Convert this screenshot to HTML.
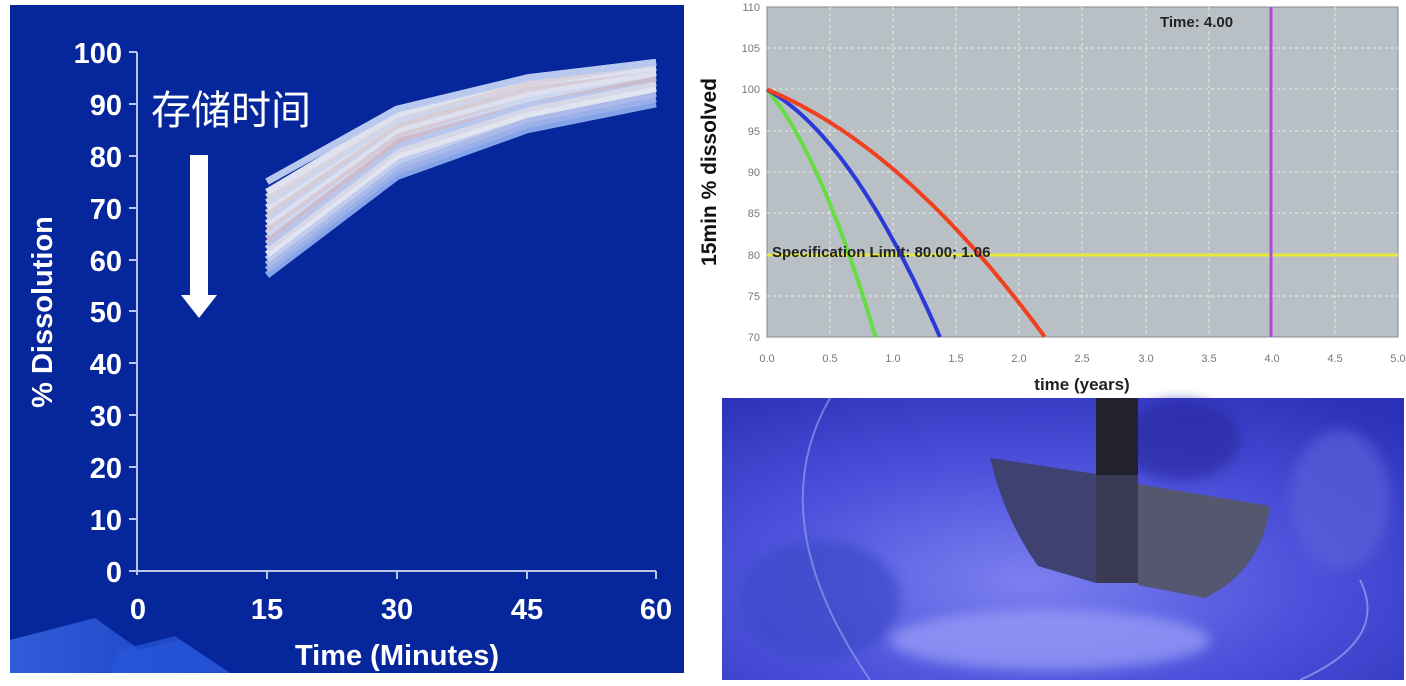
<!DOCTYPE html>
<html><head><meta charset="utf-8"><style>
html,body{margin:0;padding:0;background:#fff;width:1406px;height:686px;overflow:hidden}
svg{display:block}
</style></head><body>
<svg width="1406" height="686" viewBox="0 0 1406 686" xmlns="http://www.w3.org/2000/svg" font-family="Liberation Sans, sans-serif">
<defs>
<linearGradient id="bl" x1="0" y1="0" x2="1" y2="0"><stop offset="0" stop-color="#3a6ae8"/><stop offset="1" stop-color="#1b45c8"/></linearGradient>
<radialGradient id="ph" cx="0.45" cy="0.65" r="0.8"><stop offset="0" stop-color="#7c80f0"/><stop offset="0.5" stop-color="#4d52dc"/><stop offset="1" stop-color="#2a30b8"/></radialGradient>
<linearGradient id="pad" x1="0" y1="0" x2="1" y2="0"><stop offset="0" stop-color="#3b3d6a"/><stop offset="0.5" stop-color="#484a6e"/><stop offset="1" stop-color="#5a5a78"/></linearGradient>
<filter id="blur"><feGaussianBlur stdDeviation="6"/></filter>
</defs>
<rect x="10" y="5" width="674" height="668" fill="#06269c"/>
<polygon points="10,640 95,618 140,650 180,640 230,673 10,673" fill="url(#bl)" opacity="0.8"/>
<polygon points="120,650 175,636 230,673 110,673" fill="#2a58dc" opacity="0.7"/>
<g stroke="#b9c4e8" stroke-width="2" fill="none">
<line x1="137" y1="52" x2="137" y2="575"/>
<line x1="137" y1="571" x2="656" y2="571"/>
</g>
<g stroke="#b9c4e8" stroke-width="2">
<line x1="129" y1="52" x2="137" y2="52"/><line x1="129" y1="104" x2="137" y2="104"/><line x1="129" y1="156" x2="137" y2="156"/><line x1="129" y1="208" x2="137" y2="208"/><line x1="129" y1="260" x2="137" y2="260"/><line x1="129" y1="311" x2="137" y2="311"/><line x1="129" y1="363" x2="137" y2="363"/><line x1="129" y1="415" x2="137" y2="415"/><line x1="129" y1="467" x2="137" y2="467"/><line x1="129" y1="519" x2="137" y2="519"/><line x1="129" y1="571" x2="137" y2="571"/>
<line x1="267" y1="571" x2="267" y2="579"/><line x1="397" y1="571" x2="397" y2="579"/><line x1="527" y1="571" x2="527" y2="579"/><line x1="656" y1="571" x2="656" y2="579"/>
</g>
<g fill="#fff" font-weight="bold" font-size="29" text-anchor="end">
<text x="122" y="63">100</text><text x="122" y="115">90</text><text x="122" y="167">80</text><text x="122" y="219">70</text><text x="122" y="271">60</text><text x="122" y="322">50</text><text x="122" y="374">40</text><text x="122" y="426">30</text><text x="122" y="478">20</text><text x="122" y="530">10</text><text x="122" y="582">0</text>
</g>
<g fill="#fff" font-weight="bold" font-size="29" text-anchor="middle">
<text x="138" y="619">0</text><text x="267" y="619">15</text><text x="397" y="619">30</text><text x="527" y="619">45</text><text x="656" y="619">60</text>
<text x="397" y="665">Time (Minutes)</text>
<text transform="translate(52,312) rotate(-90)">% Dissolution</text>
</g>
<text x="151" y="124" fill="#fff" font-size="40" font-family="Liberation Sans, Noto Sans CJK SC, sans-serif">存储时间</text>
<rect x="190" y="155" width="18" height="140" fill="#fff"/>
<polygon points="181,295 217,295 199,318" fill="#fff"/>
<g id="dl" fill="none" stroke-width="7" stroke-linejoin="round" opacity="0.92"></g>
<rect x="767" y="7" width="631" height="330" fill="#b8c0c6" stroke="#888" stroke-width="1"/>
<g stroke="#e8eef0" stroke-width="1" stroke-dasharray="3,3">
<line x1="830" y1="7" x2="830" y2="337"/><line x1="893" y1="7" x2="893" y2="337"/><line x1="956" y1="7" x2="956" y2="337"/><line x1="1019" y1="7" x2="1019" y2="337"/><line x1="1082" y1="7" x2="1082" y2="337"/><line x1="1146" y1="7" x2="1146" y2="337"/><line x1="1209" y1="7" x2="1209" y2="337"/><line x1="1272" y1="7" x2="1272" y2="337"/><line x1="1335" y1="7" x2="1335" y2="337"/>
<line x1="767" y1="48" x2="1398" y2="48"/><line x1="767" y1="89" x2="1398" y2="89"/><line x1="767" y1="131" x2="1398" y2="131"/><line x1="767" y1="172" x2="1398" y2="172"/><line x1="767" y1="213" x2="1398" y2="213"/><line x1="767" y1="296" x2="1398" y2="296"/>
</g>
<g fill="#777" font-size="11" text-anchor="end">
<text x="760" y="11">110</text><text x="760" y="52">105</text><text x="760" y="93">100</text><text x="760" y="135">95</text><text x="760" y="176">90</text><text x="760" y="217">85</text><text x="760" y="259">80</text><text x="760" y="300">75</text><text x="760" y="341">70</text>
</g>
<g fill="#777" font-size="11" text-anchor="middle">
<text x="767" y="362">0.0</text><text x="830" y="362">0.5</text><text x="893" y="362">1.0</text><text x="956" y="362">1.5</text><text x="1019" y="362">2.0</text><text x="1082" y="362">2.5</text><text x="1146" y="362">3.0</text><text x="1209" y="362">3.5</text><text x="1272" y="362">4.0</text><text x="1335" y="362">4.5</text><text x="1398" y="362">5.0</text>
</g>
<text x="1082" y="390" font-size="17" font-weight="bold" fill="#222" text-anchor="middle">time (years)</text>
<text transform="translate(716,172) rotate(-90)" font-size="21" font-weight="bold" fill="#111" text-anchor="middle">15min % dissolved</text>
<line x1="767" y1="255" x2="1398" y2="255" stroke="#e8e83a" stroke-width="3"/>
<line x1="1271" y1="7" x2="1271" y2="337" stroke="#b04ad8" stroke-width="3"/>
<g id="cv" fill="none" stroke-width="4"></g>
<text x="772" y="257" font-size="15" font-weight="bold" fill="#222">Specification Limit: 80.00; 1.06</text>
<text x="1160" y="27" font-size="15" font-weight="bold" fill="#222">Time: 4.00</text>
<rect x="722" y="398" width="682" height="282" fill="url(#ph)"/>
<g filter="url(#blur)" opacity="0.7">
<ellipse cx="1180" cy="440" rx="60" ry="40" fill="#2a2aa0"/>
<ellipse cx="820" cy="600" rx="80" ry="60" fill="#3a48c8"/>
<ellipse cx="1050" cy="640" rx="160" ry="30" fill="#9aa0f8"/>
<ellipse cx="1340" cy="500" rx="50" ry="70" fill="#5860d8"/>
</g>
<path d="M830,398 Q760,520 870,680" stroke="#9aa8f0" stroke-width="2" fill="none" opacity="0.6"/>
<path d="M1360,580 Q1390,640 1300,680" stroke="#aab4f8" stroke-width="2" fill="none" opacity="0.6"/>
<path d="M990,458 L1096,474 L1096,583 L1038,566 Q1005,520 990,458 Z" fill="#3f4170"/>
<path d="M1138,484 L1270,506 Q1262,570 1205,598 L1138,585 Z" fill="#55566f"/>
<rect x="1096" y="398" width="42" height="185" fill="#22222e"/>
<rect x="1096" y="475" width="42" height="108" fill="#3a3a52"/>
</svg>
<script>
var X=function(t){return 767+t*126.2},Y=function(v){return 7+(110-v)*8.25};
function curve(a,b,tmax,col){var d="";for(var i=0;i<=40;i++){var t=tmax*i/40,v=100-a*t-b*t*t;d+=(i?"L":"M")+X(t).toFixed(1)+","+Y(v).toFixed(1);}
var p=document.createElementNS("http://www.w3.org/2000/svg","path");p.setAttribute("d",d);p.setAttribute("stroke",col);document.getElementById("cv").appendChild(p);}
curve(18.1,19.5,0.86,"#66dd44");curve(8.52,9.76,1.37,"#2a3ad8");curve(6.34,3.31,2.2,"#f04020");
var xs=[267,397,527,656],yy=function(v){return 571-v*5.19};
var data=[[57,76,85,90],[58,77,86,91],[59,78,87,92],[60,79,88,93],[61,80,88,93],[62,81,89,94],[63,82,90,95],[64,83,91,95],[65,84,91,96],[66,84,92,96],[67,85,92,96],[68,86,93,97],[69,86,93,97],[70,87,94,97],[71,87,94,98],[72,88,94,98],[73,88,95,98],[75,89,95,98]];
var cols=["#90aef0","#a8bcf0","#b8c8f0","#d0dcf5","#f5f5f8","#e8e8ee","#c8d4f5","#dcc8d0","#e0e6f8","#e8d8dc","#f0f0f5","#d8dff5","#e8dcdc","#f0f0f5","#dfe5f6","#ece2e2","#f2f2f6","#c8d6f5"];
var g=document.getElementById("dl");
data.forEach(function(r,k){var p=document.createElementNS("http://www.w3.org/2000/svg","polyline");p.setAttribute("points",r.map(function(v,i){return xs[i]+","+yy(v).toFixed(1)}).join(" "));p.setAttribute("stroke",cols[k]);g.appendChild(p);});
</script>
</body></html>
